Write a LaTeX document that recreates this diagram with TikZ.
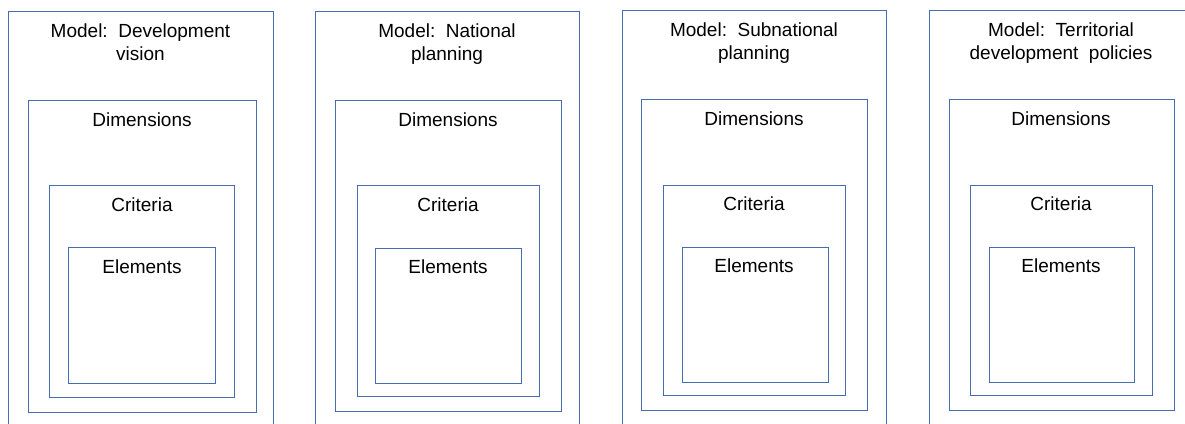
\documentclass[tikz,border=0pt]{standalone}
\usepackage{fontspec}
\setmainfont{Liberation Sans}
\definecolor{boxblue}{RGB}{72,108,178}
\begin{document}
\begin{tikzpicture}[x=1pt,y=-1pt,
  box/.style={draw=boxblue,line width=0.9pt,inner sep=0pt,anchor=north west},
  lbl/.style={font=\fontsize{19}{23}\selectfont,inner sep=0pt,anchor=base,align=center,text=black}]
\useasboundingbox (0,0) rectangle (1185,423);
\clip (0,0) rectangle (1185,423);
% Panel 1
\node[box,minimum width=265pt,minimum height=430pt] (o1) at (8,11) {};
\node[box,minimum width=228pt,minimum height=312pt] (d1) at (28,100) {};
\node[box,minimum width=185pt,minimum height=212pt] (c1) at (49,185) {};
\node[box,minimum width=147pt,minimum height=136pt] (e1) at (68,247) {};
\node[lbl] (o1t) at (140.5,60) {Model:\ \ Development\\vision};
\node[lbl] (d1t) at (142,126) {Dimensions};
\node[lbl] (c1t) at (142,211) {Criteria};
\node[lbl] (e1t) at (142,273) {Elements};
% Panel 2
\node[box,minimum width=264pt,minimum height=430pt] (o2) at (315,11) {};
\node[box,minimum width=226pt,minimum height=311pt] (d2) at (335,100) {};
\node[box,minimum width=182pt,minimum height=211pt] (c2) at (357,185) {};
\node[box,minimum width=146pt,minimum height=135pt] (e2) at (375,248) {};
\node[lbl] (o2t) at (447,60) {Model:\ \ National\\planning};
\node[lbl] (d2t) at (448,126) {Dimensions};
\node[lbl] (c2t) at (448,211) {Criteria};
\node[lbl] (e2t) at (448,273) {Elements};
% Panel 3
\node[box,minimum width=264pt,minimum height=430pt] (o3) at (622,10) {};
\node[box,minimum width=226pt,minimum height=311pt] (d3) at (641,99) {};
\node[box,minimum width=182pt,minimum height=210pt] (c3) at (663,185) {};
\node[box,minimum width=146pt,minimum height=135pt] (e3) at (682,247) {};
\node[lbl] (o3t) at (754,59) {Model:\ \ Subnational\\planning};
\node[lbl] (d3t) at (754,125) {Dimensions};
\node[lbl] (c3t) at (754,210) {Criteria};
\node[lbl] (e3t) at (754,272) {Elements};
% Panel 4
\node[box,minimum width=266pt,minimum height=430pt] (o4) at (929,10) {};
\node[box,minimum width=225pt,minimum height=311pt] (d4) at (949,99) {};
\node[box,minimum width=182pt,minimum height=210pt] (c4) at (970,185) {};
\node[box,minimum width=145pt,minimum height=135pt] (e4) at (989,247) {};
\node[lbl] (o4t) at (1061,59) {Model:\ \ Territorial\\development\ \ policies};
\node[lbl] (d4t) at (1061,125) {Dimensions};
\node[lbl] (c4t) at (1061,210) {Criteria};
\node[lbl] (e4t) at (1061,272) {Elements};
\end{tikzpicture}
\end{document}
